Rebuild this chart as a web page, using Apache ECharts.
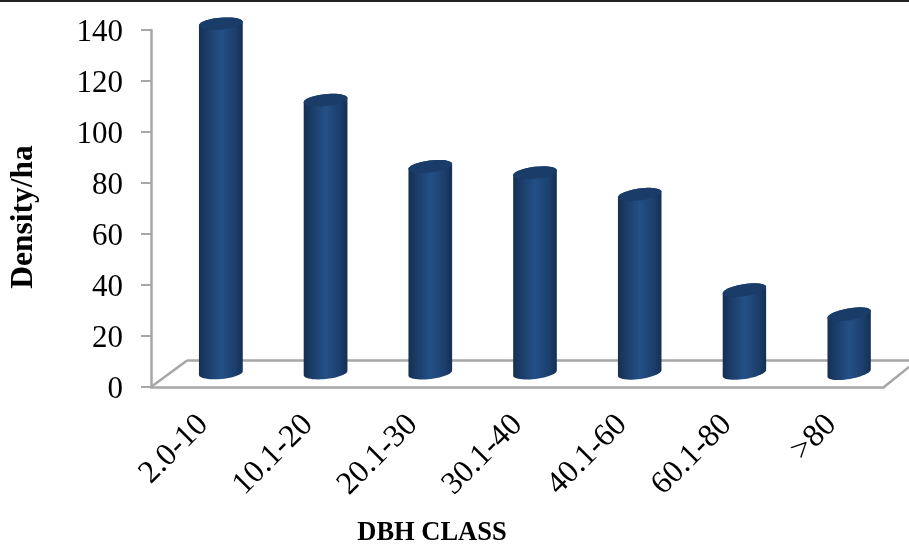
<!DOCTYPE html>
<html>
<head>
<meta charset="utf-8">
<style>html,body{margin:0;padding:0;background:#fff}#c{width:909px;height:544px}</style>
<script src="https://cdn.jsdelivr.net/npm/echarts@6/dist/echarts.min.js"></script>
</head>
<body>
<div id="c"></div>
<script>
const categories = ['2.0-10','10.1-20','20.1-30','30.1-40','40.1-60','60.1-80','>80'];
const density = [137,107,81,78.5,70,32.5,23];
const tilts = [5,6,7,7,8,9,10];

const chart = echarts.init(document.getElementById('c'), null, {renderer:'canvas'});
const bodyFill = new echarts.graphic.LinearGradient(0,0,1,0,[
  {offset:0,color:'#152f52'},{offset:0.18,color:'#1b3c68'},{offset:0.5,color:'#245086'},
  {offset:0.82,color:'#1b3f6e'},{offset:1,color:'#152f52'}]);
const floorLine = {stroke:'#a6a6a6',lineWidth:2.5};

function arc(cx, cy, rx, ry, rot, from, to){
  const pts = [];
  for(let k=0;k<=24;k++){
    const t = from+(to-from)*k/24;
    const ex = rx*Math.cos(t), ey = ry*Math.sin(t);
    pts.push([cx+ex*Math.cos(rot)+ey*Math.sin(rot), cy-ex*Math.sin(rot)+ey*Math.cos(rot)]);
  }
  return pts;
}

function renderCylinder(params, api){
  const c = api.coord([api.value(0), api.value(1)]);
  const base = api.coord([api.value(0), 0]);
  const step = api.size([1,0])[0];
  const rx = step*0.21, ry = 6;
  const shiftX = 17.5, shiftY = 14;
  const cx = c[0]+shiftX, top = c[1]-shiftY, bot = base[1]-shiftY;
  const rot = tilts[params.dataIndex]*Math.PI/180;
  const body = arc(cx,top,rx,ry,rot,Math.PI,2*Math.PI).concat(arc(cx,bot,rx,ry,rot,0,Math.PI));
  const cap = arc(cx,top,rx,ry,rot,0,2*Math.PI);
  return {type:'group',children:[
    {type:'polygon',shape:{points:body},style:{fill:bodyFill}},
    {type:'polygon',shape:{points:cap},style:{fill:'#1a3c69'}}
  ]};
}

chart.setOption({
  animation:false,
  backgroundColor:'#fff',
  textStyle:{fontFamily:'Liberation Serif'},
  grid:{left:151,top:30,width:733,height:357,outerBoundsMode:'none'},
  graphic:[
    {type:'rect',z:0,shape:{x:0,y:0,width:909,height:2},style:{fill:'#222'}},
    {type:'line',z:0,shape:{x1:151,y1:387,x2:187,y2:360.5},style:floorLine},
    {type:'line',z:0,shape:{x1:187,y1:360.5,x2:909,y2:360.5},style:floorLine},
    {type:'line',z:0,shape:{x1:884,y1:387,x2:909,y2:367},style:floorLine},
    {type:'text',z:5,x:432,y:533,style:{text:'DBH CLASS',align:'center',verticalAlign:'middle',font:'bold 26.5px "Liberation Serif"',fill:'#000'}},
    {type:'text',z:5,x:24,y:217,rotation:Math.PI/2,style:{text:'Density/ha',align:'center',verticalAlign:'middle',font:'bold 31.5px "Liberation Serif"',fill:'#000'}}
  ],
  xAxis:{
    type:'category',data:categories,
    axisLine:{lineStyle:{color:'#a6a6a6',width:2.5}},
    axisTick:{show:false},
    axisLabel:{rotate:45,fontSize:32,color:'#000',margin:33,interval:0,fontFamily:'Liberation Serif'}
  },
  yAxis:{
    type:'value',min:0,max:140,interval:20,
    axisLine:{show:true,lineStyle:{color:'#a6a6a6',width:2.5}},
    axisTick:{show:true,length:10,lineStyle:{color:'#a6a6a6',width:2}},
    splitLine:{show:false},
    axisLabel:{fontSize:31,color:'#000',margin:28,lineHeight:31,formatter:'{n|{value}}',rich:{n:{fontSize:31,padding:[5,0,0,0],fontFamily:'Liberation Serif',color:'#000'}}}
  },
  series:[{type:'custom',renderItem:renderCylinder,data:density.map((v,i)=>[i,v]),encode:{x:0,y:1},clip:false,z:3}]
});
</script>
</body>
</html>
